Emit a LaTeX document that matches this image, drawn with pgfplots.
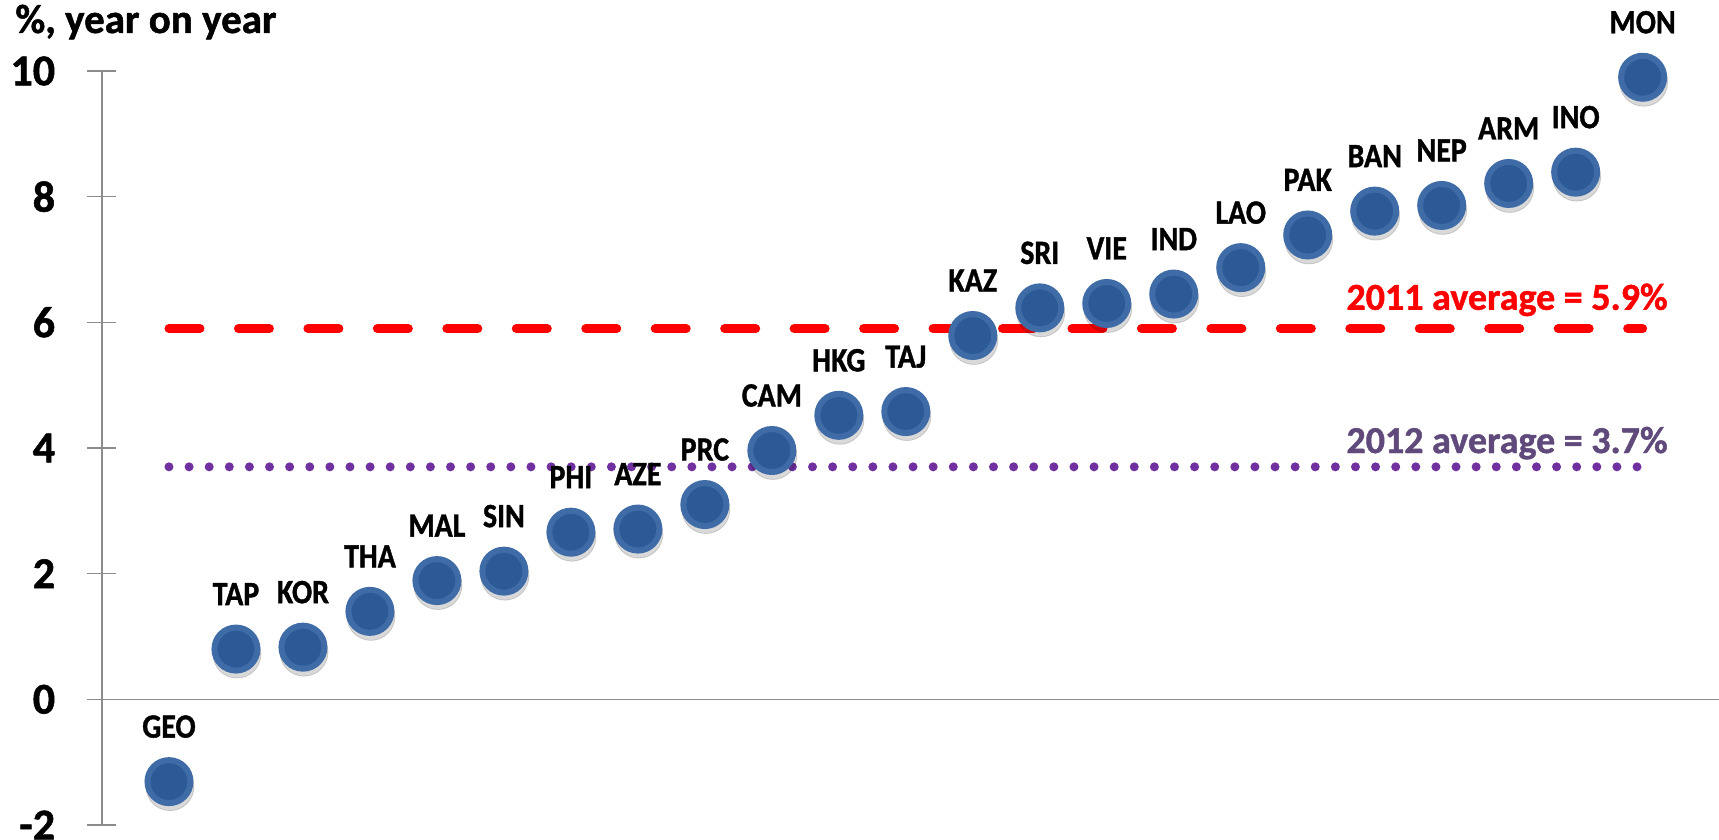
\documentclass[border=0pt]{standalone}
\usepackage{fontspec}
\setmainfont{Carlito}[BoldFeatures={FakeBold=1.2}]
\usepackage{graphicx}
\usepackage{pgfplots}
\pgfplotsset{compat=1.18}
\usepackage{pgfplotstable}
\definecolor{dotblue}{HTML}{2C5A96}
\definecolor{rimblue}{HTML}{3F6BA6}
\definecolor{avgred}{HTML}{FF0000}
\definecolor{avgpurple}{HTML}{7030A0}
\definecolor{txtpurple}{HTML}{604A7B}
\definecolor{axgray}{HTML}{8C8C8C}

\pgfplotstableread{
x y lab
1 -1.31 GEO
2 0.80 TAP
3 0.83 KOR
4 1.40 THA
5 1.89 MAL
6 2.04 SIN
7 2.66 PHI
8 2.71 AZE
9 3.10 PRC
10 3.96 CAM
11 4.52 HKG
12 4.58 TAJ
13 5.79 KAZ
14 6.23 SRI
15 6.30 VIE
16 6.45 IND
17 6.87 LAO
18 7.39 PAK
19 7.77 BAN
20 7.86 NEP
21 8.21 ARM
22 8.39 INO
23 9.90 MON
}\growth

\begin{document}
\begin{tikzpicture}
\path[use as bounding box] (-51pt,-7.5pt) rectangle (808.5pt,412.5pt);
\begin{axis}[
  at={(0pt,0pt)}, anchor=south west,
  scale only axis, width=808.5pt, height=377pt,
  xmin=0, xmax=24.14, ymin=-2, ymax=10,
  axis y line=left, axis x line=none,
  axis line style={-, axgray, line width=0.75pt},
  xtick=\empty, ytick={-2,0,2,4,6,8,10},
  tick align=center, major tick length=14.5pt,
  tick style={axgray, line width=0.75pt},
  yticklabel style={anchor=east, inner sep=0pt, xshift=-16pt,
    font=\fontsize{22}{22}\selectfont\bfseries},
  /pgf/number format/assume math mode=true,
  clip=false,
]
\addplot[axgray, line width=0.75pt] coordinates {(0,0) (24.14,0)};
\addplot[avgred, line width=4.5pt, line cap=round,
  dash pattern=on 15.5pt off 19.23pt] coordinates {(1,5.9) (23,5.9)};
\addplot[avgpurple, line width=4.5pt, line cap=round,
  dash pattern=on 0pt off 10.055pt] coordinates {(1,3.7) (23,3.7)};
\addplot[only marks, mark=*, mark size=12pt,
  mark options={fill=black, draw=none, opacity=0.15, xshift=0.5pt, yshift=-2.5pt}]
  table[x=x, y=y] {\growth};
\addplot[only marks, mark=*, mark size=10.75pt,
  mark options={fill=dotblue, draw=rimblue, line width=3pt},
  point meta=explicit symbolic,
  nodes near coords={\scalebox{0.88}[1]{\pgfplotspointmeta}},
  every node near coord/.append style={anchor=base, yshift=22pt, inner sep=0pt,
    font=\fontsize{17}{17}\selectfont\bfseries, text=black}]
  table[x=x, y=y, meta=lab] {\growth};
\node[anchor=base east, inner sep=0pt, text=avgred,
  font=\fontsize{19}{19}\selectfont\bfseries] at (axis cs:23.38,6.20) {2011 average = 5.9\%};
\node[anchor=base east, inner sep=0pt, text=txtpurple,
  font=\fontsize{19}{19}\selectfont\bfseries] at (axis cs:23.38,3.92) {2012 average = 3.7\%};
\end{axis}
\node[anchor=base west, inner sep=0pt, font=\fontsize{20.5}{20.5}\selectfont\bfseries]
  at (-43.5pt,396pt) {\%, year on year};
\end{tikzpicture}
\end{document}
